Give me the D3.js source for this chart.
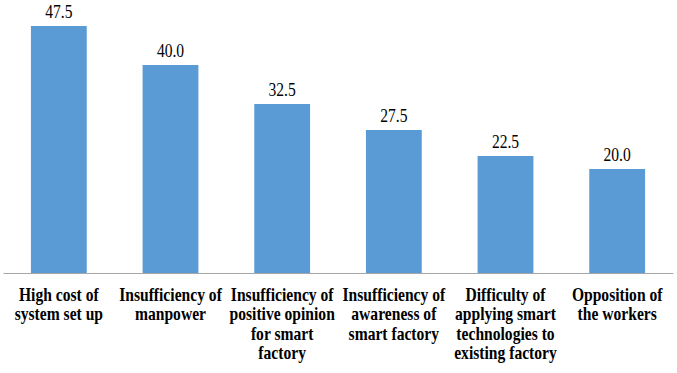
<!DOCTYPE html>
<html>
<head>
<meta charset="utf-8">
<script src="https://cdn.jsdelivr.net/npm/d3@7"></script>
<style>
  html, body { margin: 0; padding: 0; background: #fff; }
  svg { display: block; }
</style>
</head>
<body>
<svg id="chart" width="677" height="373"></svg>
<script>
const categories = [
  "High cost of system set up",
  "Insufficiency of manpower",
  "Insufficiency of positive opinion for smart factory",
  "Insufficiency of awareness of smart factory",
  "Difficulty of applying smart technologies to existing factory",
  "Opposition of the workers"
];
const categoryLines = [
  ["High cost of", "system set up"],
  ["Insufficiency of", "manpower"],
  ["Insufficiency of", "positive opinion", "for smart", "factory"],
  ["Insufficiency of", "awareness of", "smart factory"],
  ["Difficulty of", "applying smart", "technologies to", "existing factory"],
  ["Opposition of", "the workers"]
];
const values = [47.5, 40.0, 32.5, 27.5, 22.5, 20.0];
const valueLabels = ["47.5", "40.0", "32.5", "27.5", "22.5", "20.0"];

const svg = d3.select("#chart");
const baseY = 273, topY = 13, left = 3, right = 673;

const x = d3.scaleBand().domain(categories).range([left, right])
  .paddingInner(0.5).paddingOuter(0.25);
const y = d3.scaleLinear().domain([0, 50]).range([baseY, topY]);

svg.selectAll("rect.bar").data(values).enter().append("rect")
  .attr("class", "bar")
  .attr("x", (d, i) => x(categories[i]))
  .attr("width", x.bandwidth())
  .attr("y", d => y(d))
  .attr("height", d => y(0) - y(d))
  .attr("fill", "#5B9BD5");

const axis = svg.append("g").attr("transform", `translate(0,${baseY})`)
  .call(d3.axisBottom(x).tickSize(0).tickFormat(""));
axis.select(".domain").attr("stroke", "#A6A6A6").attr("stroke-width", 1.2);

const serif = "'Liberation Serif', 'Times New Roman', serif";

svg.selectAll("text.val").data(values).enter().append("text")
  .attr("class", "val")
  .attr("transform", (d, i) => `translate(${x(categories[i]) + x.bandwidth() / 2},${y(d) - 8}) scale(0.82,1)`)
  .attr("text-anchor", "middle")
  .attr("font-family", serif)
  .attr("font-size", 19)
  .attr("fill", "#000")
  .text((d, i) => valueLabels[i]);

const cat = svg.selectAll("g.cat").data(categoryLines).enter().append("g")
  .attr("class", "cat")
  .attr("transform", (d, i) => `translate(${x(categories[i]) + x.bandwidth() / 2},301) scale(0.83,1)`);
cat.selectAll("text").data(d => d).enter().append("text")
  .attr("y", (d, j) => j * 19.4)
  .attr("text-anchor", "middle")
  .attr("font-family", serif)
  .attr("font-weight", "bold")
  .attr("font-size", 18.8)
  .attr("fill", "#000")
  .text(d => d);
</script>
</body>
</html>
